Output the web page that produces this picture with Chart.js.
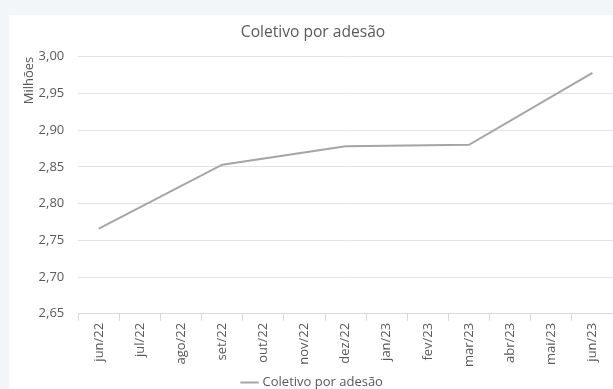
<!DOCTYPE html>
<html>
<head>
<meta charset="utf-8">
<script src="https://cdn.jsdelivr.net/npm/chart.js@4"></script>
<style>
  body { margin: 0; background: #f3f6f8; overflow: hidden; }
  #wrap { position: absolute; left: 9px; top: 15px; width: 604px; height: 384px; background: #fff; }
</style>
</head>
<body>
<div id="wrap"><canvas id="chart"></canvas></div>
<script>
// meses (só os trimestres têm valor)
const meses = ["jun/22", "jul/22", "ago/22", "set/22", "out/22", "nov/22", "dez/22",
               "jan/23", "fev/23", "mar/23", "abr/23", "mai/23", "jun/23"];
const beneficiarios = [2.766, null, null, 2.853, null, null, 2.878,
                       null, null, 2.880, null, null, 2.978];

const cinza = "#595959";
Chart.defaults.font.family = "'Open Sans', sans-serif";
Chart.defaults.color = cinza;

new Chart(document.getElementById("chart").getContext("2d"), {
    type: "line",
    data: {
        labels: meses,
        datasets: [{
            label: "Coletivo por adesão",
            data: beneficiarios,
            borderColor: "#a5a5a5",
            backgroundColor: "#a5a5a5",
            borderWidth: 2,
            pointRadius: 0,
            spanGaps: true,
            fill: false,
        }],
    },
    options: {
        responsive: true,
        maintainAspectRatio: false,
        animation: false,
        layout: { padding: { left: 4, right: 0, top: 8, bottom: 0 } },
        plugins: {
            title: {
                display: true,
                text: "Coletivo por adesão",
                font: { size: 15.6, weight: "normal" },
                color: cinza,
                padding: { top: 0, bottom: 15 },
            },
            legend: {
                position: "bottom",
                labels: {
                    usePointStyle: true,
                    pointStyle: "line",
                    boxWidth: 16,
                    font: { size: 13 },
                    color: cinza,
                    padding: 7,
                },
            },
            tooltip: { enabled: false },
        },
        scales: {
            x: {
                offset: true,
                grid: { drawOnChartArea: false, tickLength: 7, color: "#d9d9d9", offset: true },
                border: { color: "#d9d9d9" },
                ticks: { maxRotation: 90, minRotation: 90, font: { size: 13 }, padding: 2 },
            },
            y: {
                min: 2.65,
                max: 3.00,
                grid: { color: "#e3e3e3", drawTicks: false },
                border: { display: false },
                ticks: {
                    stepSize: 0.05,
                    padding: 14,
                    font: { size: 13 },
                    callback: v => v.toFixed(2).replace(".", ","),
                },
                title: {
                    display: true,
                    text: "Milhões",
                    align: "end",
                    font: { size: 13 },
                    padding: { top: 8, bottom: -12 },
                },
            },
        },
    },
});
</script>
</body>
</html>
